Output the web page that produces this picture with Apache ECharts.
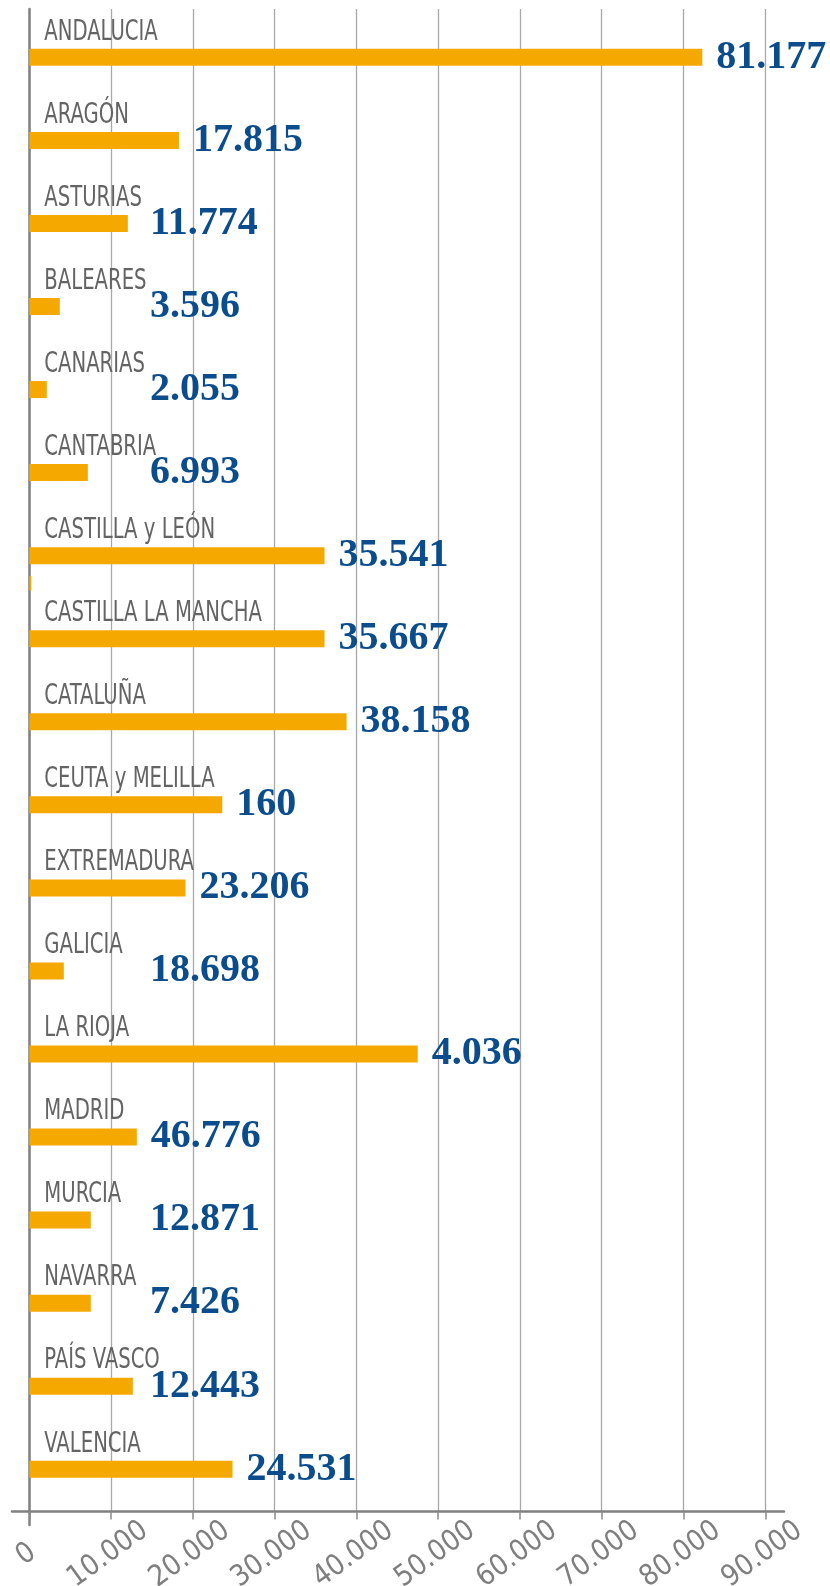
<!DOCTYPE html>
<html>
<head>
<meta charset="utf-8">
<script src="https://cdn.jsdelivr.net/npm/echarts@6/dist/echarts.min.js"></script>
<style>
  html, body { margin: 0; padding: 0; background: #fff; }
  #chart { width: 830px; height: 1586px; }
</style>
</head>
<body>
<div id="chart"></div>
<script>
// comunidades (de arriba a abajo)
const categories = ['ANDALUCIA', 'ARAGÓN', 'ASTURIAS', 'BALEARES', 'CANARIAS', 'CANTABRIA',
  'CASTILLA y LEÓN', 'CASTILLA LA MANCHA', 'CATALUÑA', 'CEUTA y MELILLA', 'EXTREMADURA',
  'GALICIA', 'LA RIOJA', 'MADRID', 'MURCIA', 'NAVARRA', 'PAÍS VASCO', 'VALENCIA']
// largo de las barras
const barValues = [82300, 18300, 12050, 3730, 2140, 7160, 36100, 36100, 38800, 23600,
  19100, 4220, 47500, 13150, 7520, 7520, 12660, 24850]
// cifras que se muestran al lado de cada barra
const labelValues = ['81.177', '17.815', '11.774', '3.596', '2.055', '6.993', '35.541',
  '35.667', '38.158', '160', '23.206', '18.698', '4.036', '46.776', '12.871', '7.426',
  '12.443', '24.531']
// segunda serie: solo la barrita de 160
const smallValues = ['-', '-', '-', '-', '-', '-', 160, '-', '-', '-', '-', '-', '-', '-', '-', '-', '-', '-']
// eje x
const axisMin = 0
const axisMax = 90000
const axisStep = 10000
const tickValues = [0, 10000, 20000, 30000, 40000, 50000, 60000, 70000, 80000, 90000]
const tickLabels = ['0', '10.000', '20.000', '30.000', '40.000', '50.000', '60.000', '70.000', '80.000', '90.000']

const orange = '#f5a800'
const blue = '#0a4c8c'
const gridLeft = 29.3
const gridWidth = 736
const pxPerUnit = gridWidth / (axisMax - axisMin)
const narrow = '"Liberation Sans Narrow", "DejaVu Sans Condensed", "Roboto Condensed", sans-serif'

let myChart = echarts.init(document.getElementById('chart'), null, { renderer: 'canvas' })

// la cifra va a la derecha de la barra, pero nunca antes de x=150
let barData = barValues.map(function (v, i) {
  let barEnd = gridLeft + v * pxPerUnit
  let shift = Math.max(0, 150 - barEnd - 14)
  return { value: v, label: { offset: [shift, 0] } }
})

// nombres encima de cada barra, algo estrechados como en el original
function renderName(params, api) {
  let pt = api.coord([0, api.value(1)])
  return {
    type: 'text',
    x: pt[0] + 15,
    y: pt[1] - 25,
    scaleX: 0.78,
    style: {
      text: categories[params.dataIndex],
      fill: '#646464',
      font: '28px ' + narrow,
      align: 'left',
      verticalAlign: 'middle'
    }
  }
}

// etiquetas del eje x, giradas y centradas bajo cada marca
function renderTick(params, api) {
  let pt = api.coord([api.value(0), 0])
  return {
    type: 'text',
    x: pt[0] - 3,
    y: pt[1] + 43,
    rotation: 36 * Math.PI / 180,
    style: {
      text: tickLabels[params.dataIndex],
      fill: '#7f7f7f',
      font: '29px ' + narrow,
      align: 'center',
      verticalAlign: 'middle'
    }
  }
}

myChart.setOption({
  animation: false,
  grid: [
    // rejilla y etiquetas del eje x
    { left: gridLeft, width: gridWidth, top: 9, height: 1502.5 },
    // barras
    { left: gridLeft, width: gridWidth, top: 15.8, height: 1495 },
    // barrita de 160
    { left: gridLeft, width: gridWidth, top: 43.5, height: 1495 },
    // linea del eje x (mas larga)
    { left: 12, width: 772, top: 9, height: 1502.5 },
    // linea del eje y (baja hasta 1525)
    { left: gridLeft, width: gridWidth, top: 9, height: 1516 }
  ],
  xAxis: [
    {
      gridIndex: 0,
      type: 'value',
      min: axisMin,
      max: axisMax,
      interval: axisStep,
      axisLine: { show: false },
      axisTick: { show: true, length: 8, lineStyle: { color: '#8a8a8a', width: 1.5 } },
      splitLine: { show: true, lineStyle: { color: '#a8a8a8', width: 1.3 } },
      axisLabel: { show: false }
    },
    { gridIndex: 1, type: 'value', min: axisMin, max: axisMax, show: false },
    { gridIndex: 2, type: 'value', min: axisMin, max: axisMax, show: false },
    {
      gridIndex: 3,
      type: 'value',
      min: 0,
      max: 1,
      axisLine: { show: true, onZero: false, lineStyle: { color: '#808080', width: 2.5 } },
      axisTick: { show: false },
      axisLabel: { show: false },
      splitLine: { show: false }
    },
    { gridIndex: 4, type: 'value', show: false }
  ],
  yAxis: [
    { gridIndex: 0, type: 'value', min: 0, max: 1, show: false },
    { gridIndex: 1, type: 'category', data: categories, inverse: true, show: false },
    { gridIndex: 2, type: 'category', data: categories, inverse: true, show: false },
    { gridIndex: 3, type: 'value', show: false },
    {
      gridIndex: 4,
      type: 'value',
      axisLine: { show: true, onZero: false, lineStyle: { color: '#808080', width: 2.5 } },
      axisTick: { show: false },
      axisLabel: { show: false },
      splitLine: { show: false }
    }
  ],
  series: [
    {
      name: 'valor',
      type: 'bar',
      xAxisIndex: 1,
      yAxisIndex: 1,
      barWidth: 17,
      itemStyle: { color: orange },
      label: {
        show: true,
        position: 'right',
        distance: 14,
        fontFamily: '"Liberation Serif", "DejaVu Serif", serif',
        fontWeight: 'bold',
        fontSize: 40,
        color: blue,
        formatter: function (p) {
          return labelValues[p.dataIndex]
        }
      },
      data: barData
    },
    {
      name: 'extra',
      type: 'bar',
      xAxisIndex: 2,
      yAxisIndex: 2,
      barWidth: 15,
      barMinHeight: 2,
      itemStyle: { color: orange },
      data: smallValues
    },
    {
      name: 'nombres',
      type: 'custom',
      xAxisIndex: 1,
      yAxisIndex: 1,
      silent: true,
      renderItem: renderName,
      data: categories.map(function (c) { return [0, c] })
    },
    {
      name: 'ejeX',
      type: 'custom',
      xAxisIndex: 0,
      yAxisIndex: 0,
      silent: true,
      clip: false,
      renderItem: renderTick,
      data: tickValues.map(function (v) { return [v, 0] })
    }
  ]
})
</script>
</body>
</html>
